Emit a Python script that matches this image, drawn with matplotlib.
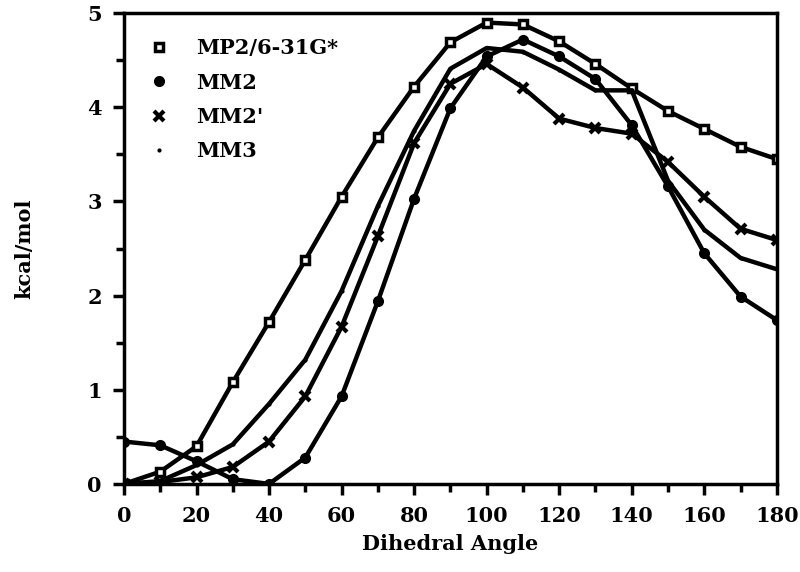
import matplotlib.pyplot as plt
import numpy as np

angles = [0, 10, 20, 30, 40, 50, 60, 70, 80, 90, 100, 110, 120, 130, 140, 150, 160, 170, 180]

mp2 = [0.0, 0.13, 0.40, 1.08, 1.72, 2.38, 3.05, 3.68, 4.22, 4.69, 4.90, 4.88, 4.70, 4.46, 4.20, 3.96, 3.77, 3.58, 3.45]
mm2 = [0.45, 0.41, 0.24, 0.05, 0.0, 0.28, 0.93, 1.94, 3.03, 3.99, 4.54, 4.72, 4.54, 4.30, 3.81, 3.16, 2.45, 1.99, 1.74]
mm2p = [0.0, 0.02, 0.07, 0.18, 0.45, 0.93, 1.67, 2.63, 3.62, 4.25, 4.46, 4.21, 3.88, 3.78, 3.72, 3.42, 3.05, 2.71, 2.59]
mm3 = [0.0, 0.03, 0.20, 0.42, 0.85, 1.32, 2.05, 2.95, 3.75, 4.41, 4.63, 4.59, 4.40, 4.18, 4.18, 3.22, 2.70, 2.40, 2.28]

labels = ['MP2/6-31G*', 'MM2', "MM2'", 'MM3']

plt.rcParams['font.family'] = ['DejaVu Serif']
plt.rcParams['font.weight'] = 'bold'

fig = plt.figure(figsize=(8, 5.72), dpi=100)
ax = fig.add_axes([0.155, 0.154, 0.816, 0.823])

lw = 3.2
ax.plot(angles, mp2, color='k', lw=lw, marker='s', ms=5.5, mfc='white', mew=2.5, label=labels[0])
ax.plot(angles, mm2, color='k', lw=lw, marker='o', ms=7, label=labels[1])
ax.plot(angles, mm2p, color='k', lw=lw, marker='x', ms=7, mew=3, label=labels[2])
ax.plot(angles, mm3, color='k', lw=lw, marker='.', ms=4, label=labels[3])

ax.set_xlim(0, 180)
ax.set_ylim(0, 5)
ax.set_xticks(np.arange(0, 181, 20))
ax.set_xticks(np.arange(0, 181, 10), minor=True)
ax.set_yticks(np.arange(0, 6, 1))
ax.set_yticks(np.arange(0, 5.1, 0.5), minor=True)
ax.tick_params(which='major', direction='out', length=8, width=2.5, labelsize=15, pad=8)
ax.tick_params(which='minor', direction='out', length=6, width=2.5)
for s in ax.spines.values():
    s.set_linewidth(2.5)

ax.set_xlabel('Dihedral Angle', fontsize=15, fontweight='bold', labelpad=6)
ax.set_ylabel('kcal/mol', fontsize=15, fontweight='bold', labelpad=38)

# legend: markers only, no line segments
handles, labs = ax.get_legend_handles_labels()
leg = ax.legend(handles, labs, loc='upper left', frameon=False, fontsize=15,
                handlelength=0, handletextpad=1.8, labelspacing=0.68,
                bbox_to_anchor=(0.025, 0.986))
for h in leg.legend_handles:
    h.set_linestyle('none')

fig.savefig('out.png', dpi=100)
